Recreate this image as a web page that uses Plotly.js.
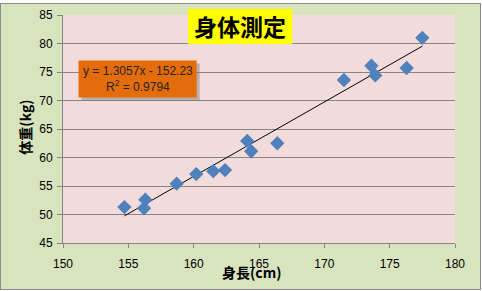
<!DOCTYPE html>
<html>
<head>
<meta charset="utf-8">
<script src="https://cdn.plot.ly/plotly-3.0.1.min.js"></script>
<style>
html,body{margin:0;padding:0;background:#ffffff;}
#bg{position:absolute;left:0;top:3px;width:479px;height:285px;background:#d7e4bd;border:1px solid #8c8c8c;}
#chart{position:absolute;left:0;top:0;width:482px;height:291px;}
</style>
</head>
<body>
<div id="bg"></div>
<div id="chart"></div>
<script>
// Data
const heights = [154.7, 156.2, 156.3, 158.7, 160.2, 161.5, 162.4, 164.1, 164.4, 166.4, 171.5, 173.6, 173.9, 176.3, 177.5];
const weights = [51.3, 51.1, 52.6, 55.4, 57.1, 57.6, 57.8, 62.9, 61.1, 62.5, 73.6, 76.1, 74.4, 75.7, 81.0];
const trendSlope = 1.3057;
const trendIntercept = -152.23;
const rSquared = 0.9794;
const chartTitle = "身体測定";
const xTitle = "身長(cm)";
const yTitle = "体重(kg)";
const xTicks = [150, 155, 160, 165, 170, 175, 180];
const yTicks = [45, 50, 55, 60, 65, 70, 75, 80, 85];

const xMin = Math.min(...heights), xMax = Math.max(...heights);
const trendX = [xMin, xMax];
const trendY = trendX.map(x => trendSlope * x + trendIntercept);

const cjk = '"Noto Sans CJK JP", "Noto Sans", sans-serif';
const lat = '"Liberation Sans", Arial, sans-serif';

const traces = [
  {
    x: trendX, y: trendY, type: 'scatter', mode: 'lines',
    line: {color: '#000000', width: 1}, hoverinfo: 'skip', showlegend: false
  },
  {
    x: heights, y: weights, type: 'scatter', mode: 'markers',
    marker: {symbol: 'diamond', size: 11, color: '#4f81bd', line: {width: 0}},
    showlegend: false
  }
];

const eqText = 'y = ' + trendSlope.toFixed(4) + 'x - ' + Math.abs(trendIntercept).toFixed(2) +
  '<br>R<sup>2</sup> = ' + rSquared.toFixed(4);

const layout = {
  width: 482, height: 291,
  margin: {l: 63, r: 27, t: 15, b: 48},
  paper_bgcolor: 'rgba(0,0,0,0)',
  plot_bgcolor: '#f2dcdb',
  showlegend: false,
  xaxis: {
    range: [150, 180], tickvals: xTicks, ticktext: xTicks.map(String),
    showgrid: false, zeroline: false,
    showline: true, linecolor: '#868686', linewidth: 1,
    ticks: 'outside', ticklen: 4, tickcolor: '#868686',
    ticklabelstandoff: 6,
    tickfont: {family: lat, size: 12, color: '#000000'}
  },
  yaxis: {
    range: [45, 85], tickvals: yTicks, ticktext: yTicks.map(String),
    showgrid: true, gridcolor: '#868686', gridwidth: 1, zeroline: false,
    showline: true, linecolor: '#868686', linewidth: 1,
    ticks: 'outside', ticklen: 5, tickcolor: '#868686',
    ticklabelstandoff: 2,
    tickfont: {family: lat, size: 12, color: '#000000'}
  },
  shapes: [
    // title box
    {type: 'rect', xref: 'paper', yref: 'paper', x0: 0.3193, x1: 0.5849, y0: 0.8733, y1: 1.0273,
     fillcolor: '#ffff00', line: {width: 0}, layer: 'above'},
    // equation shadow
    {type: 'rect', xref: 'paper', yref: 'paper', x0: 0.0473, x1: 0.3487, y0: 0.6245, y1: 0.7868,
     fillcolor: 'rgba(120,120,120,0.45)', line: {width: 0}, layer: 'above'},
    // equation box
    {type: 'rect', xref: 'paper', yref: 'paper', x0: 0.0396, x1: 0.3410, y0: 0.6377, y1: 0.8000,
     fillcolor: '#e46c0a', line: {width: 0}, layer: 'above'}
  ],
  annotations: [
    {text: '<b>' + chartTitle + '</b>', xref: 'paper', yref: 'paper', x: 0.4521, y: 0.9503,
     xanchor: 'center', yanchor: 'middle', showarrow: false,
     font: {family: cjk, size: 23, color: '#000000'}},
    {text: eqText, xref: 'paper', yref: 'paper', x: 0.1903, y: 0.7188,
     xanchor: 'center', yanchor: 'middle', showarrow: false, align: 'center',
     font: {family: lat, size: 12, color: '#262626'}},
    // x axis title
    {text: '<b>' + xTitle + '</b>', xref: 'paper', yref: 'paper', x: 0.4815, y: -0.1257,
     xanchor: 'center', yanchor: 'middle', showarrow: false,
     font: {family: cjk, size: 14, color: '#000000'}},
    // y axis title
    {text: '<b>' + yTitle + '</b>', xref: 'paper', yref: 'paper', x: -0.0958, y: 0.5079,
     xanchor: 'center', yanchor: 'middle', showarrow: false, textangle: -90,
     font: {family: cjk, size: 14, color: '#000000'}}
  ]
};

Plotly.newPlot('chart', traces, layout, {displayModeBar: false, staticPlot: true});
</script>
</body>
</html>
